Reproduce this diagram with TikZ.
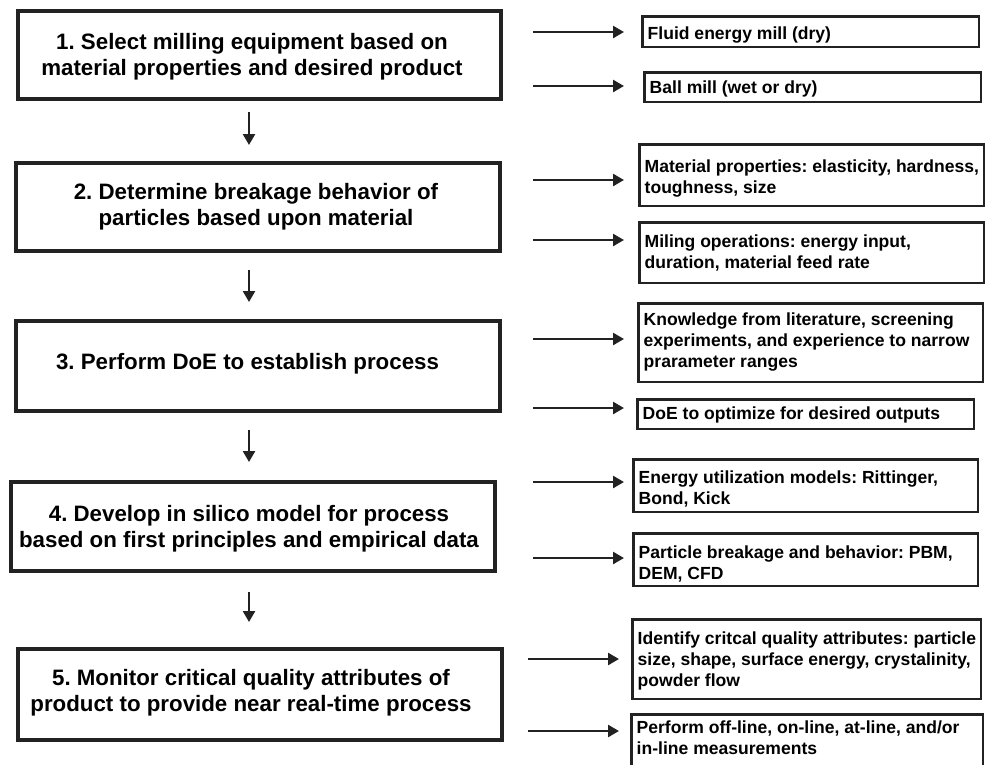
\documentclass[tikz,border=0pt]{standalone}
\usepackage{fontspec}
\setmainfont{Liberation Sans}
\frenchspacing
\usetikzlibrary{arrows.meta}
\definecolor{ink}{HTML}{222222}
\tikzset{
  maintxt/.style={font=\fontsize{22.3}{26}\selectfont\bfseries\frenchspacing, align=center, inner sep=0pt, text=black, yshift=-2pt},
  rtxt/.style={font=\fontsize{17.55}{21}\selectfont\bfseries\frenchspacing, align=left, inner sep=0pt, text=black},
  harr/.style={draw=ink, line width=2.5pt, -{Triangle[length=11pt,width=12pt]}},
  varr/.style={draw=ink, line width=2.5pt, -{Triangle[length=11pt,width=12pt]}}
}
\newcommand\mybox[7]{%
  \pgfmathsetmacro\myCX{(#3+#5)/2}\pgfmathsetmacro\myCY{(#4+#6)/2}%
  \pgfmathsetmacro\myW{#5-#3-#2}\pgfmathsetmacro\myH{#6-#4-#2}%
  \node[draw=ink, line width=#2pt, fill=white, inner sep=0pt, minimum width=\myW pt, minimum height=\myH pt] (#1) at (\myCX,\myCY) {};%
}
\begin{document}
\begin{tikzpicture}[x=1pt,y=-1pt]
\useasboundingbox (0,0) rectangle (988,764);
\begin{scope}
\clip (0,0) rectangle (988,764);
% main boxes
\mybox{b1}{4}{16}{9}{503}{101}{}
\mybox{b2}{4}{14}{161}{502}{253}{}
\mybox{b3}{4}{14}{319}{502}{413}{}
\mybox{b4}{4}{9}{480}{497}{573}{}
\mybox{b5}{4}{16}{647}{504}{742}{}
\node[maintxt] (t1) at (252,55) {1. Select milling equipment based on\\material properties and desired product};
\node[maintxt] (t2) at (256,205) {2. Determine breakage behavior of\\particles based upon material};
\node[maintxt] (t3) at (247.5,362) {3. Perform DoE to establish process};
\node[maintxt] (t4) at (249,526.5) {4. Develop in silico model for process\\based on first principles and empirical data};
\node[maintxt] (t5) at (251,690.5) {5. Monitor critical quality attributes of\\product to provide near real-time process};
% right boxes
\mybox{r1a}{2.5}{641}{15}{980}{48}{}
\mybox{r1b}{2.5}{643}{71}{982}{103}{}
\mybox{r2a}{2.5}{638}{143}{985}{207}{}
\mybox{r2b}{2.5}{638}{221}{985}{284}{}
\mybox{r3a}{2.5}{637}{302}{984}{383}{}
\mybox{r3b}{2.5}{636}{398}{975}{430}{}
\mybox{r4a}{2.5}{632}{458}{979}{513}{}
\mybox{r4b}{2.5}{632}{532}{979}{587}{}
\mybox{r5a}{2.5}{631}{618}{982}{700}{}
\mybox{r5b}{2.5}{630}{713}{984}{775}{}
\node[rtxt,anchor=west] (x1a) at ([xshift=6.5pt,yshift=-3pt]r1a.west) {Fluid energy mill (dry)};
\node[rtxt,anchor=west] (x1b) at ([xshift=6.5pt,yshift=-1.5pt]r1b.west) {Ball mill (wet or dry)};
\node[rtxt,anchor=west] (x2a) at ([xshift=6.5pt,yshift=-3pt]r2a.west) {Material properties: elasticity, hardness,\\toughness, size};
\node[rtxt,anchor=west] (x2b) at ([xshift=6.5pt,yshift=-0.5pt]r2b.west) {Miling operations: energy input,\\duration, material feed rate};
\node[rtxt,anchor=west] (x3a) at ([xshift=6.5pt,yshift=0.5pt]r3a.west) {Knowledge from literature, screening\\experiments, and experience to narrow\\prarameter ranges};
\node[rtxt,anchor=west] (x3b) at ([xshift=6.5pt,yshift=-1pt]r3b.west) {DoE to optimize for desired outputs};
\node[rtxt,anchor=west] (x4a) at ([xshift=6.5pt,yshift=-3.5pt]r4a.west) {Energy utilization models: Rittinger,\\Bond, Kick};
\node[rtxt,anchor=west] (x4b) at ([xshift=6.5pt,yshift=-4pt]r4b.west) {Particle breakage and behavior: PBM,\\DEM, CFD};
\node[rtxt,anchor=west] (x5a) at ([xshift=6.5pt,yshift=-2pt]r5a.west) {Identify critcal quality attributes: particle\\size, shape, surface energy, crystalinity,\\powder flow};
\node[rtxt,anchor=north west] (x5b) at ([xshift=6.5pt,yshift=-7.5pt]r5b.north west) {Perform off-line, on-line, at-line, and/or\\in-line measurements};
% down arrows
\coordinate (d1s) at (249,112); \coordinate (d1e) at (249,145);
\coordinate (d2s) at (249,270); \coordinate (d2e) at (249,302);
\coordinate (d3s) at (249,430); \coordinate (d3e) at (249,462);
\coordinate (d4s) at (249,592); \coordinate (d4e) at (249,622);
\draw[varr] (d1s) -- (d1e);
\draw[varr] (d2s) -- (d2e);
\draw[varr] (d3s) -- (d3e);
\draw[varr] (d4s) -- (d4e);
% horizontal arrows
\foreach \n/\y in {1/32,2/86,3/180,4/240,5/339,6/408,7/482,8/558}{
  \coordinate (hs\n) at (533,\y); \coordinate (he\n) at (624,\y);
  \draw[harr] (hs\n) -- (he\n);
}
\foreach \n/\y in {9/659,10/731}{
  \coordinate (hs\n) at (528,\y); \coordinate (he\n) at (619,\y);
  \draw[harr] (hs\n) -- (he\n);
}
\end{scope}
\end{tikzpicture}
\end{document}
